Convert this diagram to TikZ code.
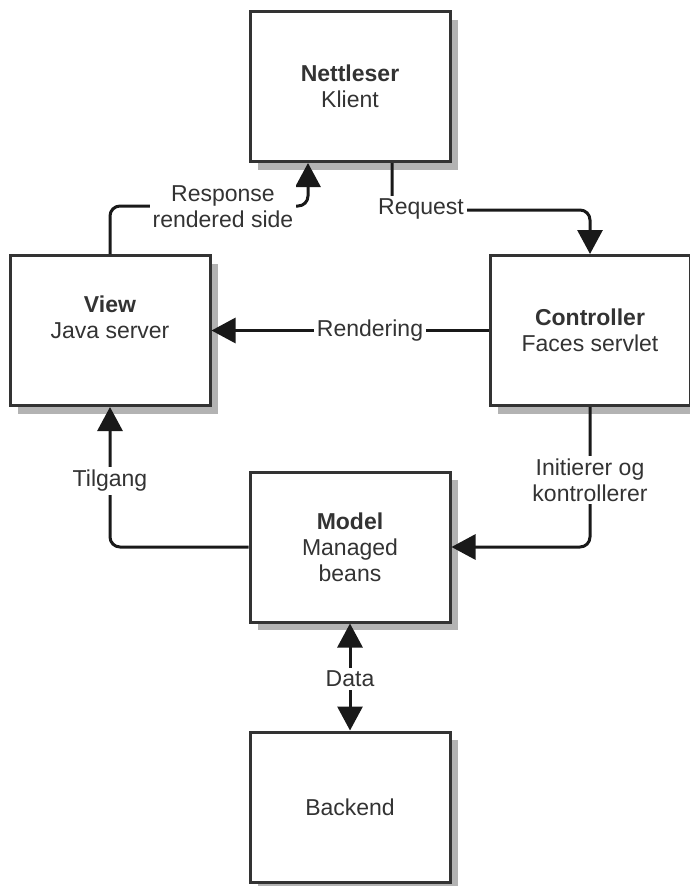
\documentclass[tikz,border=0pt]{standalone}
\usepackage{fontspec}
\setmainfont{Liberation Sans}
\usepackage{tikz}
\usetikzlibrary{arrows.meta,positioning,shadows}
\usepackage{xcolor}
\definecolor{boxedge}{HTML}{333333}
\definecolor{shade}{HTML}{B3B3B3}
\definecolor{txt}{HTML}{333333}

\begin{document}
\begin{tikzpicture}[
  x=1pt, y=-1pt,
  font=\fontsize{23}{26}\selectfont, text=txt,
  tier/.style={draw=boxedge, line width=3pt, fill=white, minimum width=200pt, minimum height=150pt,
    inner sep=0, align=center,
    drop shadow={shadow xshift=8pt, shadow yshift=-8pt, fill=shade, opacity=1}},
  conn/.style={line width=3pt, black!90, rounded corners=10pt},
  lbl/.style={fill=white, inner sep=3pt, align=center},
  >={Triangle[length=24pt, width=25pt]}
]
\useasboundingbox (0,0) rectangle (690,886);

% the five tiers
\node[tier] (nett) at (350,86.5) {\textbf{Nettleser}\\Klient};
\node[tier] (view) at (110,330.5) {\textbf{View}\\Java server\\\mbox{}};
\node[tier] (ctrl) at (590,330.5) {\textbf{Controller}\\Faces servlet};
\node[tier] (model) at (350,547) {\textbf{Model}\\Managed\\beans};
\node[tier] (backend) at (350,807) {Backend};

% request / response round trip
\draw[conn,->] ([xshift=42pt]nett.south) -- ++(0,47) -| (ctrl.north);
\node[lbl] (lreq) at (421,209) {Request};
\draw[conn,->] (view.north) -- ++(0,-48) -| ([xshift=-42pt]nett.south);
\node[lbl] (lresp) at (223,207) {Response\\rendered side};

% controller renders the view
\draw[conn,->] (ctrl.west) -- (view.east);
\node[lbl] (lrend) at (370,330.5) {Rendering};

% controller drives the model, view reads it
\draw[conn,->] (ctrl.south) |- (model.east);
\node[lbl] (linit) at (590,480) {Initierer og\\kontrollerer};
\draw[conn,->] (model.west) -| (view.south);
\node[lbl] (ltilg) at (110,481) {Tilgang};

% model <-> backend
\draw[conn,<->] (model.south) -- (backend.north);
\node[lbl] (ldata) at (350,679) {Data};
\end{tikzpicture}
\end{document}
